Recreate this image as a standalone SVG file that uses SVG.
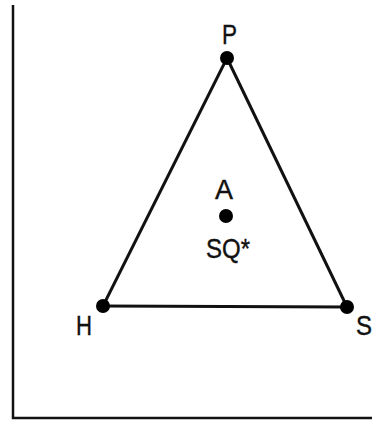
<svg xmlns="http://www.w3.org/2000/svg" width="374" height="421" viewBox="0 0 374 421">
<style>
.ax{stroke:#111;stroke-width:2.5;fill:none}
.edge{stroke:#111;stroke-width:3;fill:none}
.dot{fill:#000}
.lbl{font-family:"Liberation Sans",Arial,sans-serif;font-size:28px;fill:#111;stroke:#111;stroke-width:0.4}
</style>
<rect width="374" height="421" fill="#fff"/>
<g id="axes">
<path class="ax" d="M13,5 V418 H372"/>
</g>
<g id="connectors">
<line class="edge" x1="227" y1="58" x2="103" y2="306"/>
<line class="edge" x1="227" y1="58" x2="347" y2="307"/>
<line class="edge" x1="103" y1="306" x2="347" y2="307"/>
</g>
<g id="P">
<circle class="dot" cx="227" cy="58" r="7"/>
<text class="lbl" x="222" y="44" textLength="15" lengthAdjust="spacingAndGlyphs">P</text>
</g>
<g id="H">
<circle class="dot" cx="103" cy="306" r="7"/>
<text class="lbl" x="76" y="335" textLength="16" lengthAdjust="spacingAndGlyphs">H</text>
</g>
<g id="S">
<circle class="dot" cx="347" cy="307" r="7"/>
<text class="lbl" x="356" y="335" textLength="16" lengthAdjust="spacingAndGlyphs">S</text>
</g>
<g id="A">
<circle class="dot" cx="226" cy="216" r="7"/>
<text class="lbl" x="215" y="199" textLength="18" lengthAdjust="spacingAndGlyphs">A</text>
<text class="lbl" x="206" y="258" textLength="44" lengthAdjust="spacingAndGlyphs">SQ*</text>
</g>
</svg>
